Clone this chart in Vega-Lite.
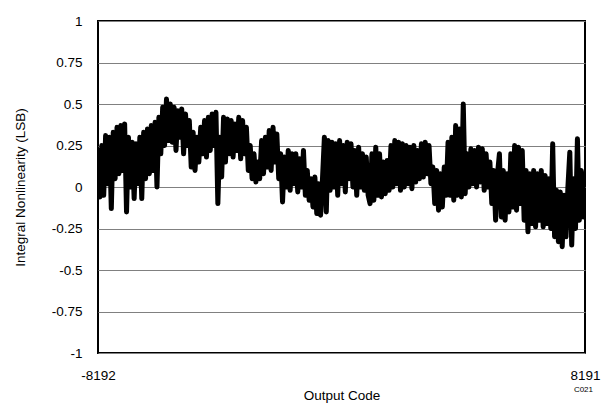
{
"$schema":"https://vega.github.io/schema/vega-lite/v6.json",
"width":487,"height":332,
"autosize":{"type":"none"},
"padding":{"left":98,"top":21,"right":27,"bottom":51},
"background":"white",
"config":{"font":"Liberation Sans","view":{"stroke":"black","strokeWidth":2}},
"title":{"text":"C021","orient":"bottom","anchor":"end","frame":"group","fontSize":8,"fontWeight":"normal","color":"black","offset":-16,"dx":8},
"data":{"values":[
{"code":-8192,"inl":0.22},{"code":-8128,"inl":-0.06},{"code":-8064,"inl":0.25},{"code":-8000,"inl":-0.05},{"code":-7936,"inl":0.31},{"code":-7872,"inl":0.02},{"code":-7808,"inl":0.30},{"code":-7744,"inl":-0.13},{"code":-7680,"inl":0.33},{"code":-7616,"inl":0.05},{"code":-7552,"inl":0.36},{"code":-7488,"inl":0.08},{"code":-7424,"inl":0.37},{"code":-7360,"inl":0.10},{"code":-7296,"inl":0.38},{"code":-7232,"inl":-0.15},{"code":-7168,"inl":0.30},{"code":-7104,"inl":0.00},{"code":-7040,"inl":0.27},{"code":-6976,"inl":-0.07},{"code":-6912,"inl":0.26},{"code":-6848,"inl":0.02},{"code":-6784,"inl":0.30},{"code":-6720,"inl":-0.07},{"code":-6656,"inl":0.33},{"code":-6592,"inl":0.05},{"code":-6528,"inl":0.35},{"code":-6464,"inl":0.08},{"code":-6400,"inl":0.37},{"code":-6336,"inl":0.10},{"code":-6272,"inl":0.39},{"code":-6208,"inl":0.00},{"code":-6144,"inl":0.42},{"code":-6080,"inl":0.20},{"code":-6016,"inl":0.48},{"code":-5952,"inl":0.25},{"code":-5888,"inl":0.53},{"code":-5824,"inl":0.28},{"code":-5760,"inl":0.50},{"code":-5696,"inl":0.27},{"code":-5632,"inl":0.48},{"code":-5568,"inl":0.22},{"code":-5504,"inl":0.46},{"code":-5440,"inl":0.30},{"code":-5376,"inl":0.47},{"code":-5312,"inl":0.20},{"code":-5248,"inl":0.44},{"code":-5184,"inl":0.25},{"code":-5120,"inl":0.40},{"code":-5056,"inl":0.12},{"code":-4992,"inl":0.33},{"code":-4928,"inl":0.10},{"code":-4864,"inl":0.30},{"code":-4800,"inl":0.15},{"code":-4736,"inl":0.36},{"code":-4672,"inl":0.20},{"code":-4608,"inl":0.40},{"code":-4544,"inl":0.18},{"code":-4480,"inl":0.42},{"code":-4416,"inl":0.22},{"code":-4352,"inl":0.44},{"code":-4288,"inl":0.25},{"code":-4224,"inl":0.45},{"code":-4160,"inl":-0.10},{"code":-4096,"inl":0.30},{"code":-4032,"inl":0.06},{"code":-3968,"inl":0.42},{"code":-3904,"inl":0.15},{"code":-3840,"inl":0.41},{"code":-3776,"inl":0.20},{"code":-3712,"inl":0.40},{"code":-3648,"inl":0.18},{"code":-3584,"inl":0.38},{"code":-3520,"inl":0.22},{"code":-3456,"inl":0.42},{"code":-3392,"inl":0.17},{"code":-3328,"inl":0.40},{"code":-3264,"inl":0.20},{"code":-3200,"inl":0.36},{"code":-3136,"inl":0.10},{"code":-3072,"inl":0.25},{"code":-3008,"inl":0.05},{"code":-2944,"inl":0.20},{"code":-2880,"inl":0.03},{"code":-2816,"inl":0.15},{"code":-2752,"inl":0.05},{"code":-2688,"inl":0.28},{"code":-2624,"inl":0.08},{"code":-2560,"inl":0.30},{"code":-2496,"inl":0.12},{"code":-2432,"inl":0.34},{"code":-2368,"inl":0.10},{"code":-2304,"inl":0.36},{"code":-2240,"inl":0.15},{"code":-2176,"inl":0.32},{"code":-2112,"inl":0.05},{"code":-2048,"inl":0.20},{"code":-1984,"inl":-0.09},{"code":-1920,"inl":0.18},{"code":-1856,"inl":0.00},{"code":-1792,"inl":0.22},{"code":-1728,"inl":-0.02},{"code":-1664,"inl":0.20},{"code":-1600,"inl":0.02},{"code":-1536,"inl":0.20},{"code":-1472,"inl":-0.03},{"code":-1408,"inl":0.17},{"code":-1344,"inl":0.00},{"code":-1280,"inl":0.22},{"code":-1216,"inl":-0.05},{"code":-1152,"inl":0.10},{"code":-1088,"inl":-0.08},{"code":-1024,"inl":0.05},{"code":-960,"inl":-0.12},{"code":-896,"inl":0.06},{"code":-832,"inl":-0.16},{"code":-768,"inl":0.02},{"code":-704,"inl":-0.17},{"code":-640,"inl":0.05},{"code":-576,"inl":0.30},{"code":-512,"inl":-0.15},{"code":-448,"inl":0.28},{"code":-384,"inl":-0.02},{"code":-320,"inl":0.27},{"code":-256,"inl":0.00},{"code":-192,"inl":0.26},{"code":-128,"inl":-0.05},{"code":-64,"inl":0.28},{"code":0,"inl":0.02},{"code":64,"inl":0.25},{"code":128,"inl":-0.03},{"code":192,"inl":0.27},{"code":256,"inl":0.05},{"code":320,"inl":0.26},{"code":384,"inl":0.00},{"code":448,"inl":0.22},{"code":512,"inl":-0.05},{"code":576,"inl":0.24},{"code":640,"inl":0.00},{"code":704,"inl":0.20},{"code":768,"inl":-0.02},{"code":832,"inl":0.18},{"code":896,"inl":-0.05},{"code":960,"inl":-0.10},{"code":1024,"inl":0.20},{"code":1088,"inl":-0.08},{"code":1152,"inl":0.24},{"code":1216,"inl":-0.05},{"code":1280,"inl":0.20},{"code":1344,"inl":-0.06},{"code":1408,"inl":0.15},{"code":1472,"inl":-0.04},{"code":1536,"inl":0.16},{"code":1600,"inl":-0.02},{"code":1664,"inl":0.25},{"code":1728,"inl":0.00},{"code":1792,"inl":0.28},{"code":1856,"inl":0.02},{"code":1920,"inl":0.27},{"code":1984,"inl":-0.02},{"code":2048,"inl":0.26},{"code":2112,"inl":0.00},{"code":2176,"inl":0.25},{"code":2240,"inl":0.02},{"code":2304,"inl":0.24},{"code":2368,"inl":-0.01},{"code":2432,"inl":0.25},{"code":2496,"inl":0.03},{"code":2560,"inl":0.22},{"code":2624,"inl":0.05},{"code":2688,"inl":0.26},{"code":2752,"inl":0.06},{"code":2816,"inl":0.27},{"code":2880,"inl":0.08},{"code":2944,"inl":0.25},{"code":3008,"inl":0.02},{"code":3072,"inl":0.12},{"code":3136,"inl":-0.10},{"code":3200,"inl":0.10},{"code":3264,"inl":-0.14},{"code":3328,"inl":0.08},{"code":3392,"inl":-0.12},{"code":3456,"inl":0.12},{"code":3520,"inl":-0.05},{"code":3584,"inl":0.27},{"code":3648,"inl":-0.05},{"code":3712,"inl":0.30},{"code":3776,"inl":-0.08},{"code":3840,"inl":0.37},{"code":3904,"inl":-0.05},{"code":3968,"inl":0.35},{"code":4032,"inl":-0.06},{"code":4096,"inl":0.50},{"code":4160,"inl":-0.04},{"code":4224,"inl":0.20},{"code":4288,"inl":0.00},{"code":4352,"inl":0.23},{"code":4416,"inl":0.02},{"code":4480,"inl":0.22},{"code":4544,"inl":0.00},{"code":4608,"inl":0.24},{"code":4672,"inl":0.03},{"code":4736,"inl":0.23},{"code":4800,"inl":-0.02},{"code":4864,"inl":0.20},{"code":4928,"inl":0.00},{"code":4992,"inl":0.15},{"code":5056,"inl":-0.10},{"code":5120,"inl":0.10},{"code":5184,"inl":-0.20},{"code":5248,"inl":0.08},{"code":5312,"inl":0.20},{"code":5376,"inl":-0.18},{"code":5440,"inl":0.10},{"code":5504,"inl":-0.20},{"code":5568,"inl":0.08},{"code":5632,"inl":-0.15},{"code":5696,"inl":0.20},{"code":5760,"inl":-0.12},{"code":5824,"inl":0.25},{"code":5888,"inl":-0.14},{"code":5952,"inl":0.24},{"code":6016,"inl":-0.10},{"code":6080,"inl":0.22},{"code":6144,"inl":-0.20},{"code":6208,"inl":0.10},{"code":6272,"inl":-0.27},{"code":6336,"inl":0.08},{"code":6400,"inl":-0.22},{"code":6464,"inl":0.10},{"code":6528,"inl":-0.24},{"code":6592,"inl":0.08},{"code":6656,"inl":-0.20},{"code":6720,"inl":0.10},{"code":6784,"inl":-0.24},{"code":6848,"inl":0.07},{"code":6912,"inl":-0.22},{"code":6976,"inl":0.05},{"code":7040,"inl":-0.25},{"code":7104,"inl":0.26},{"code":7168,"inl":-0.30},{"code":7232,"inl":-0.02},{"code":7296,"inl":-0.33},{"code":7360,"inl":-0.03},{"code":7424,"inl":-0.36},{"code":7488,"inl":-0.05},{"code":7552,"inl":-0.30},{"code":7616,"inl":0.00},{"code":7680,"inl":0.21},{"code":7744,"inl":-0.35},{"code":7808,"inl":0.05},{"code":7872,"inl":-0.25},{"code":7936,"inl":0.29},{"code":8000,"inl":-0.20},{"code":8064,"inl":0.10},{"code":8128,"inl":-0.18},{"code":8191,"inl":0.08}
]},
"mark":{"type":"line","color":"black","strokeWidth":5,"strokeJoin":"round","strokeCap":"round","clip":true},
"encoding":{
"x":{"field":"code","type":"quantitative","scale":{"domain":[-8192,8191],"nice":false,"zero":false},
"axis":{"values":[-8192,8191],"labelExpr":"'' + datum.value","grid":false,"ticks":false,"domain":false,"labelPadding":15,"labelFontSize":13.5,"labelColor":"black","labelFont":"Liberation Sans","labelFontWeight":"normal","labelFlush":false,"title":"Output Code","titleFontSize":13.5,"titleFontWeight":"normal","titleColor":"black","titlePadding":7}},
"y":{"field":"inl","type":"quantitative","scale":{"domain":[-1,1],"nice":false},
"axis":{"values":[-1,-0.75,-0.5,-0.25,0,0.25,0.5,0.75,1],"labelExpr":"'' + datum.value","grid":true,"gridColor":"#808080","gridWidth":1,"gridOpacity":1,"ticks":false,"domain":false,"labelPadding":16,"labelFontSize":13.5,"labelColor":"black","labelFlush":false,"title":"Integral Nonlinearity (LSB)","titleFontSize":13.5,"titleFontWeight":"normal","titleColor":"black","titlePadding":24}}
}
}
